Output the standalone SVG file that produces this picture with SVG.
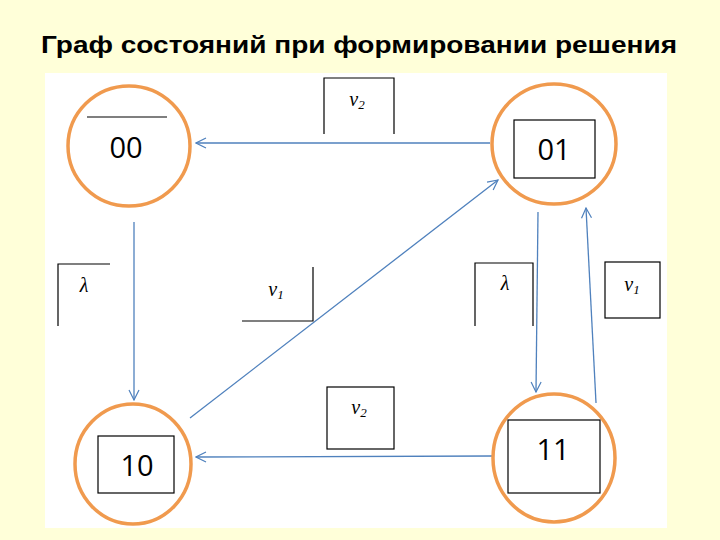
<svg xmlns="http://www.w3.org/2000/svg" width="720" height="540" viewBox="0 0 720 540">
<defs>
<marker id="ar" markerWidth="12" markerHeight="12" refX="11" refY="6" orient="auto" markerUnits="userSpaceOnUse"><path d="M1,1 L11,6 L1,11" fill="none" stroke="#4F81BD" stroke-width="1.2"/></marker>
<style>
.c{fill:#fff;stroke:#F09A4E;stroke-width:3.5}
.b{fill:#fff;stroke:#000;stroke-width:1.2}
.l{fill:none;stroke:#000;stroke-width:1.2}
.n{font-family:"Open Sans","DejaVu Sans",sans-serif;font-size:29px;text-anchor:middle;fill:#000}
.m{font-family:"Liberation Serif",serif;font-style:italic;font-size:20px;text-anchor:middle;fill:#000}
.e{stroke:#4F81BD;stroke-width:1.3;fill:none;marker-end:url(#ar)}
</style>
</defs>
<rect width="720" height="540" fill="#FFFFD9"/>
<rect x="45" y="73" width="622" height="455" fill="#fff"/>
<text x="41" y="53" font-family="Liberation Sans,Arial,sans-serif" font-weight="bold" font-size="23" textLength="636" lengthAdjust="spacingAndGlyphs">Граф состояний при формировании решения</text>
<g id="connectors">
<line class="e" x1="490" y1="143" x2="196" y2="143"/>
<line class="e" x1="134" y1="222" x2="134" y2="400"/>
<line class="e" x1="190" y1="418" x2="498" y2="180"/>
<line class="e" x1="538" y1="212" x2="536" y2="392"/>
<line class="e" x1="596" y1="403" x2="586" y2="208"/>
<line class="e" x1="492" y1="456" x2="196" y2="457"/>
</g>
<g id="n00"><ellipse class="c" cx="129" cy="146" rx="61" ry="60"/><line class="l" x1="87" y1="117" x2="167" y2="117"/><text class="n" x="126" y="158">00</text></g>
<g id="n01"><ellipse class="c" cx="554" cy="144" rx="62" ry="60"/><rect class="b" x="514" y="120" width="81" height="58"/><text class="n" x="554" y="160">01</text></g>
<g id="n10"><ellipse class="c" cx="133" cy="464" rx="58" ry="60"/><rect class="b" x="98" y="436" width="76" height="57"/><text class="n" x="137" y="476">10</text></g>
<g id="n11"><ellipse class="c" cx="554" cy="458" rx="61" ry="64"/><rect class="b" x="508" y="420" width="92" height="73"/><text class="n" x="553" y="460">11</text></g>
<g id="lbl1"><path class="l" d="M324,134 V78 H394 V134"/><text class="m" x="357" y="106">v<tspan font-size="13" dy="3">2</tspan></text></g>
<g id="lbl2"><path class="l" d="M58,326 V264 H110"/><text class="m" x="84" y="292">λ</text></g>
<g id="lbl3"><path class="l" d="M313,267 V321 H242"/><text class="m" x="276" y="296">v<tspan font-size="13" dy="3">1</tspan></text></g>
<g id="lbl4"><path class="l" d="M475,326 V263 H533 V326"/><text class="m" x="505" y="290">λ</text></g>
<g id="lbl5"><rect class="b" x="605" y="262" width="55" height="56"/><text class="m" x="632" y="291">v<tspan font-size="13" dy="3">1</tspan></text></g>
<g id="lbl6"><rect class="b" x="327" y="387" width="67" height="62"/><text class="m" x="359" y="414">v<tspan font-size="13" dy="3">2</tspan></text></g>
</svg>
